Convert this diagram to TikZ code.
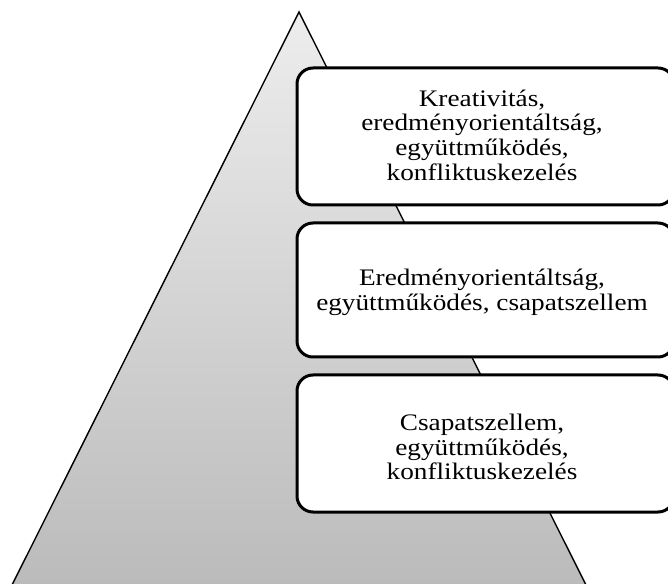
\documentclass[tikz,border=0pt]{standalone}
\usepackage{fontspec}
\setmainfont{Liberation Serif}[FakeStretch=1.15]
\begin{document}
\begin{tikzpicture}[x=1pt,y=1pt,
  levelbox/.style={draw=black, line width=3pt, fill=white, rounded corners=16pt},
  leveltext/.style={align=center, font=\fontsize{23.7}{24.7}\selectfont, inner sep=0pt}]
\useasboundingbox (0,0) rectangle (668,583);
\clip (0,0) rectangle (668,583);
% pyramid
\coordinate (apex) at (299,571);
\coordinate (bl) at (8,-10);
\coordinate (br) at (590,-10);
\shade[top color=black!7, bottom color=black!27] (apex) -- (br) -- (bl) -- cycle;
\draw[line width=1.4pt, line join=miter] (bl) -- (apex) -- (br);
% boxes
\draw[levelbox] (297,378) rectangle (674,515);
\draw[levelbox] (297,226) rectangle (674,360);
\draw[levelbox] (297,71) rectangle (674,208);
\node[leveltext] (t1) at (482,448) {Kreativitás,\\eredményorientáltság,\\együttműködés,\\konfliktuskezelés};
\node[leveltext] (t2) at (482,291) {Eredményorientáltság,\\együttműködés, csapatszellem};
\node[leveltext] (t3) at (482,136) {Csapatszellem,\\együttműködés,\\konfliktuskezelés};
\end{tikzpicture}
\end{document}
